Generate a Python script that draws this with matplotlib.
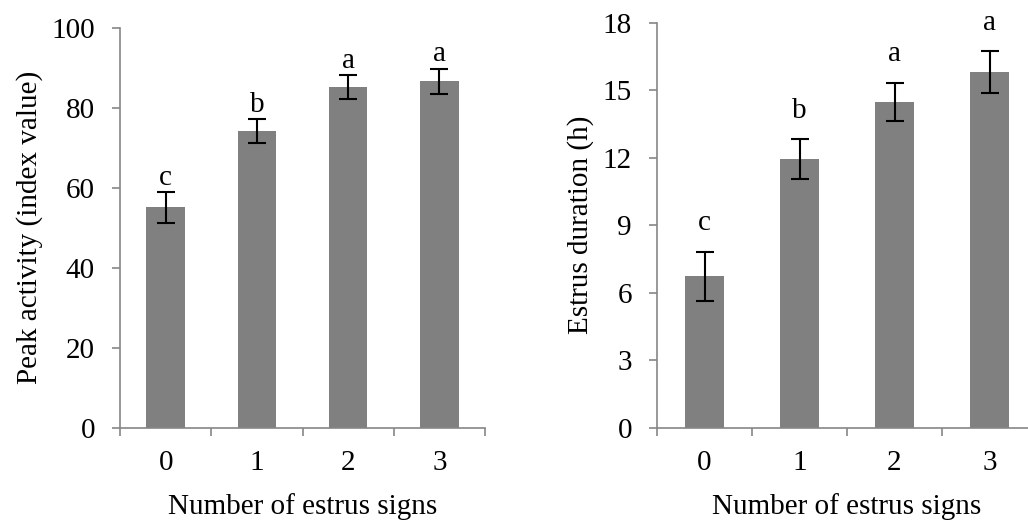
import numpy as np
import matplotlib
matplotlib.use("Agg")
import matplotlib.pyplot as plt
from matplotlib.ticker import FixedLocator

plt.rcParams['font.family'] = ['Liberation Serif', 'DejaVu Serif']

# data
signs = ['0', '1', '2', '3']
peak_activity = [55.1, 74.1, 85.1, 86.6]
peak_err = [3.8, 3.0, 3.0, 3.1]
peak_letters = ['c', 'b', 'a', 'a']

estrus_duration = [6.74, 11.94, 14.48, 15.82]
duration_err = [1.09, 0.87, 0.86, 0.93]
duration_letters = ['c', 'b', 'a', 'a']

bar_color = '#808080'
axis_color = '#868686'
fs = 21

fig = plt.figure(figsize=(10.28, 5.21), dpi=100)
ax1 = fig.add_axes([120/1028, 93/521, 365/1028, 400.5/521])
ax2 = fig.add_axes([657/1028, 93.3/521, 380/1028, 405/521])


def draw_panel(ax, vals, errs, letters, ymax, yticks, ylabel, letter_off, labelpad):
    x = np.arange(len(signs))
    ax.bar(x, vals, width=0.42, color=bar_color, zorder=2)
    ax.errorbar(x, vals, yerr=errs, fmt='none', ecolor='black',
                elinewidth=1.5, capsize=6.5, capthick=1.5, zorder=3)
    for xi, v, e, lab in zip(x, vals, errs, letters):
        ax.annotate(lab, (xi, v + e), xytext=(0, letter_off), textcoords='offset points',
                    ha='center', va='bottom', fontsize=fs)
    ax.set_xlim(-0.5, len(signs) - 0.5)
    ax.set_ylim(0, ymax)
    ax.set_yticks(yticks)
    ax.set_xticks(x)
    ax.set_xticklabels(signs)
    ax.xaxis.set_minor_locator(FixedLocator(np.arange(-0.5, len(signs), 1.0)))
    ax.tick_params(axis='x', which='major', length=0, pad=16, labelsize=fs)
    ax.tick_params(axis='x', which='minor', length=6, width=1.2, color=axis_color)
    ax.tick_params(axis='y', length=6, width=1.2, color=axis_color, pad=12, labelsize=fs)
    for s in ['top', 'right']:
        ax.spines[s].set_visible(False)
    for s in ['left', 'bottom']:
        ax.spines[s].set_color(axis_color)
        ax.spines[s].set_linewidth(1.2)
    ax.set_xlabel('Number of estrus signs', fontsize=fs, labelpad=12)
    ax.set_ylabel(ylabel, fontsize=fs, labelpad=labelpad)


draw_panel(ax1, peak_activity, peak_err, peak_letters, 100, [0, 20, 40, 60, 80, 100],
           'Peak activity (index value)', 1, 6)
draw_panel(ax2, estrus_duration, duration_err, duration_letters, 18, [0, 3, 6, 9, 12, 15, 18],
           'Estrus duration (h)', 11, 6)

fig.savefig('out.png', dpi=100)
